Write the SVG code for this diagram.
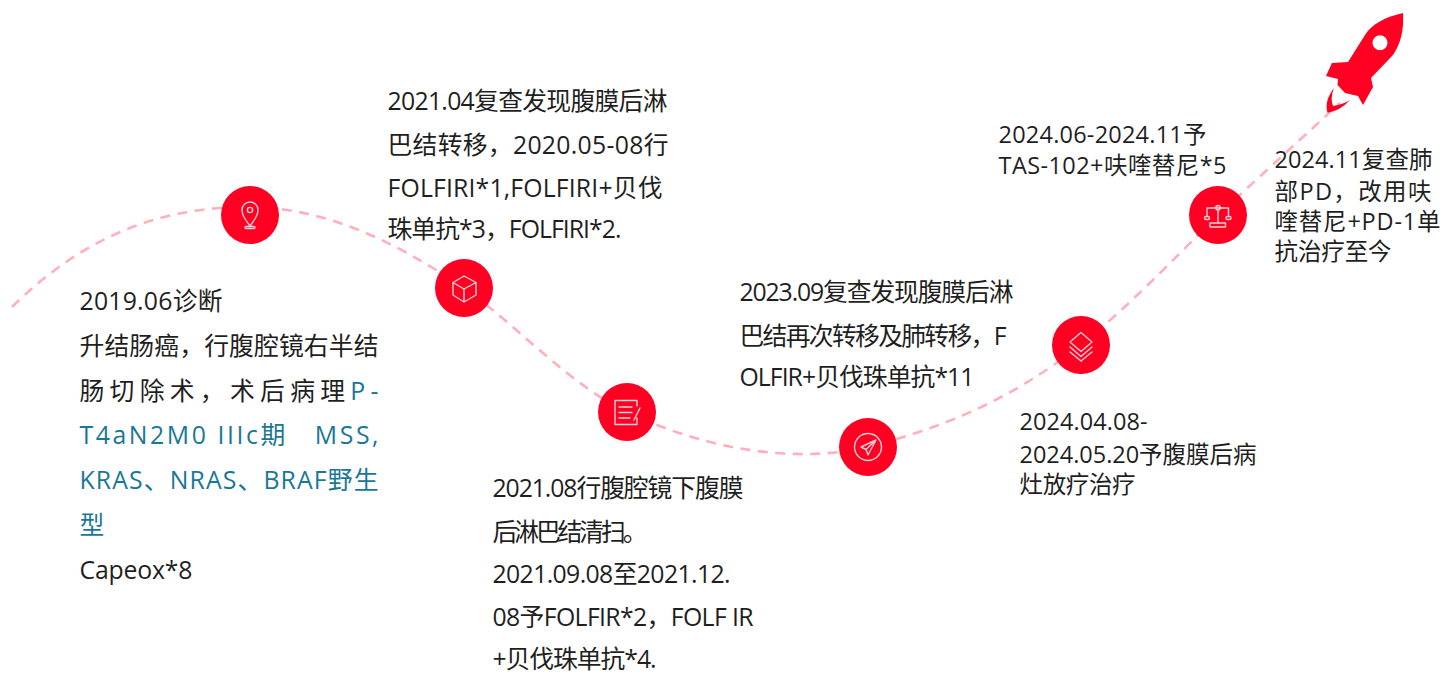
<svg xmlns="http://www.w3.org/2000/svg" width="1449" height="686" viewBox="0 0 1449 686">
<style>
text{font-family:"Open Sans","Noto Sans CJK SC","Noto Sans",sans-serif;font-size:24.800px;fill:#1f1f1f}
.s{font-size:23.500px}
.t{fill:#1a7796}
.c{fill:#ff0022}
.i{fill:none;stroke:#ffd0d6;stroke-width:1.4;stroke-linejoin:round;stroke-linecap:round}
.d{fill:none;stroke:#ffb0ba;stroke-width:2.600;stroke-dasharray:10 7.500}
</style>
<rect width="1449" height="686" fill="#fff"/>
<g id="connectors">
<path class="d" d="M12 307C75 245 150 206 250 207C330 208 400 245 464 288C520 328 570 385 627 412C700 447 790 465 868 447C945 427 1010 400 1081 345C1130 305 1175 258 1218 215L1340 103"/>
</g>
<g id="node1">
<circle class="c" cx="250" cy="215" r="29"/>
<path class="i" d="M250 226C245 219 242 215 242 210A8 8 0 0 1 258 210C258 215 255 219 250 226Z"/><circle class="i" cx="250" cy="210" r="2.600"/><rect class="i" x="245" y="226.500" width="10" height="2" rx="1"/>
<text x="79.500" y="310" textLength="143">2019.06诊断</text>
<text x="79.500" y="355" textLength="299">升结肠癌，行腹腔镜右半结</text>
<text x="79.500" y="400" textLength="299">肠切除术，术后病理<tspan class="t">P-</tspan></text>
<text class="t" x="79.500" y="444" textLength="299" xml:space="preserve">T4aN2M0 IIIc期   MSS,</text>
<text class="t" x="79.500" y="489" textLength="299">KRAS、NRAS、BRAF野生</text>
<text class="t" x="79.500" y="534">型</text>
<text x="79.500" y="579" textLength="113">Capeox*8</text>
</g>
<g id="node2">
<circle class="c" cx="464" cy="288" r="29"/>
<path class="i" d="M464 276L476 282.500V295L464 302L453 295V282.500ZM453 282.500L464 289L476 282.500M464 289V302"/>
<text x="387.500" y="110" textLength="280">2021.04复查发现腹膜后淋</text>
<text x="387.500" y="154" textLength="281">巴结转移，2020.05-08行</text>
<text x="387.500" y="197" textLength="275">FOLFIRI*1,FOLFIRI+贝伐</text>
<text x="387.500" y="238" textLength="234">珠单抗*3，FOLFIRI*2.</text>
</g>
<g id="node3">
<circle class="c" cx="627" cy="412" r="29"/>
<path class="i" d="M637 406V400.500H615V424.500H637V418M619 407H632M619 412.500H632M619 418H630M634 420L640 408"/>
<text x="492.500" y="497" textLength="251">2021.08行腹腔镜下腹膜</text>
<text x="492.500" y="541" textLength="155">后淋巴结清扫。</text>
<text x="492.500" y="583" textLength="238">2021.09.08至2021.12.</text>
<text x="492.500" y="626" textLength="261" xml:space="preserve">08予FOLFIR*2，FOLF IR</text>
<text x="492.500" y="668" textLength="164">+贝伐珠单抗*4.</text>
</g>
<g id="node4">
<circle class="c" cx="868" cy="447" r="29"/>
<circle class="i" cx="868" cy="447" r="13.500"/>
<path class="i" d="M876 440L861 447L866 449.500L868 455ZM866 449.500L876 440"/>
<text x="739.500" y="301" textLength="274">2023.09复查发现腹膜后淋</text>
<text x="739.500" y="345" textLength="267">巴结再次转移及肺转移，F</text>
<text x="739.500" y="386" textLength="235">OLFIR+贝伐珠单抗*11</text>
</g>
<g id="node5">
<circle class="c" cx="1081" cy="345" r="29"/>
<path class="i" d="M1081 332.500L1092 342L1081 351.500L1070 342ZM1070 347L1081 356.500L1092 347M1070 352L1081 361L1092 352"/>
<text class="s" x="1019.500" y="430" textLength="128">2024.04.08-</text>
<text class="s" x="1019.500" y="463" textLength="237">2024.05.20予腹膜后病</text>
<text class="s" x="1019.500" y="493" textLength="116">灶放疗治疗</text>
</g>
<g id="node6">
<circle class="c" cx="1218" cy="215" r="29"/>
<path class="i" d="M1207 216.500V208H1228.500V216.500M1218 210V223M1210 223H1225.500V227H1210Z"/><circle class="i" cx="1218" cy="207.700" r="2.200"/><rect class="i" x="1204.500" y="216.500" width="5" height="3" rx="1.500"/><rect class="i" x="1226" y="216.500" width="5" height="3" rx="1.500"/>
<text class="s" x="998.500" y="143" textLength="208">2024.06-2024.11予</text>
<text class="s" x="998.500" y="174" textLength="228">TAS-102+呋喹替尼*5</text>
</g>
<g id="rocket">
<path fill="#ff0022" fill-rule="evenodd" d="M1403 13C1385 17 1372 24 1365 35L1348 62L1332 63L1326 76L1338 79L1337.500 85L1345 93L1358 96L1363 105L1373 87L1371 78L1393 55C1401 43 1404 30 1403 13ZM1387.500 42.700A7.500 7.500 0 1 0 1372.500 42.700A7.500 7.500 0 1 0 1387.500 42.700ZM1334 88C1328 96 1325 104 1327.500 112.700Q1340 111 1350 100Q1343 104.500 1333 106Q1330 98 1334 88Z"/>
<text class="s" x="1274.500" y="168" textLength="158">2024.11复查肺</text>
<text class="s" x="1274.500" y="200" textLength="157">部PD，改用呋</text>
<text class="s" x="1274.500" y="230" textLength="166">喹替尼+PD-1单</text>
<text class="s" x="1274.500" y="260" textLength="117">抗治疗至今</text>
</g>
</svg>
